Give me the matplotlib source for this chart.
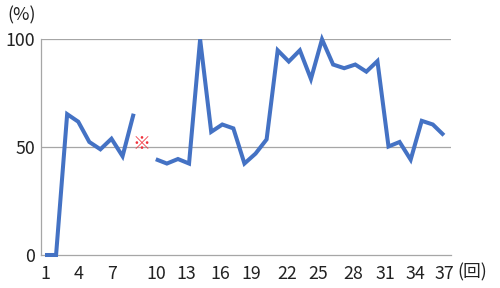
import numpy as np
import matplotlib
matplotlib.use("Agg")
import matplotlib.pyplot as plt

plt.rcParams['font.family'] = ['Noto Sans CJK JP', 'DejaVu Sans']

# ---- data ----
rounds = list(range(1, 38))
rates = [0, 0, 65.3, 61.8, 52.4, 49, 53.9, 45.8, 65.5, np.nan,
         44.4, 42.4, 44.5, 42.4, 100, 57.1, 60.5, 58.7, 42.4, 47,
         53.6, 94.9, 89.7, 94.9, 81.6, 100, 88.3, 86.6, 88.3, 85,
         89.9, 50.3, 52.4, 44.2, 62.2, 60.5, 55.5]
missing_round = 10
missing_mark = "※"
x_tick_labels = ['1', '4', '7', '10', '13', '16', '19', '22', '25', '28', '31', '34', '37']
y_ticks = [0, 50, 100]
y_unit = "(%)"
x_unit = "(回)"

# ---- layout ----
x_label_pos = [1, 4.07, 7.02, 11.02, 13.79, 16.79, 19.65, 22.84, 25.64, 28.8, 31.75, 34.39, 37]
W, H = 500, 288
fig = plt.figure(figsize=(W / 100, H / 100), dpi=100)
left, right, bottom, top = 41, 451, 255, 39.3
ax = fig.add_axes([left / W, 1 - bottom / H, (right - left) / W, (bottom - top) / H])

grid_col = '#A6A6A6'
text_col = '#222222'
fs = 12.8
ax.plot(rounds, rates, color='#4472C4', lw=2.9, solid_joinstyle='miter',
        solid_capstyle='butt', clip_on=False, zorder=3)

ax.set_xlim(0.64, 37.64)
ax.set_ylim(0, 100)
ax.set_yticks(y_ticks)
ax.set_yticklabels([str(v) for v in y_ticks])
ax.set_xticks(x_label_pos)
ax.set_xticklabels(x_tick_labels)
ax.tick_params(axis='both', length=0, labelsize=fs, labelcolor=text_col)
ax.tick_params(axis='y', pad=4)
ax.tick_params(axis='x', pad=7)

for v in y_ticks[1:]:
    ax.axhline(v, color=grid_col, lw=0.9, zorder=1)
for s in ['top', 'right']:
    ax.spines[s].set_visible(False)
for s in ['left', 'bottom']:
    ax.spines[s].set_color(grid_col)
    ax.spines[s].set_linewidth(0.9)

ax.text(missing_round - 0.25, 51.5, missing_mark, color='#F0323C', fontsize=13,
        ha='center', va='center', zorder=4)

fig.text(21.5 / W, 1 - 15.5 / H, y_unit, ha='center', va='center',
         fontsize=fs, color=text_col)
fig.text(472.5 / W, 1 - 272 / H, x_unit, ha='center', va='center',
         fontsize=fs, color=text_col)

fig.savefig('out.png', dpi=100)
